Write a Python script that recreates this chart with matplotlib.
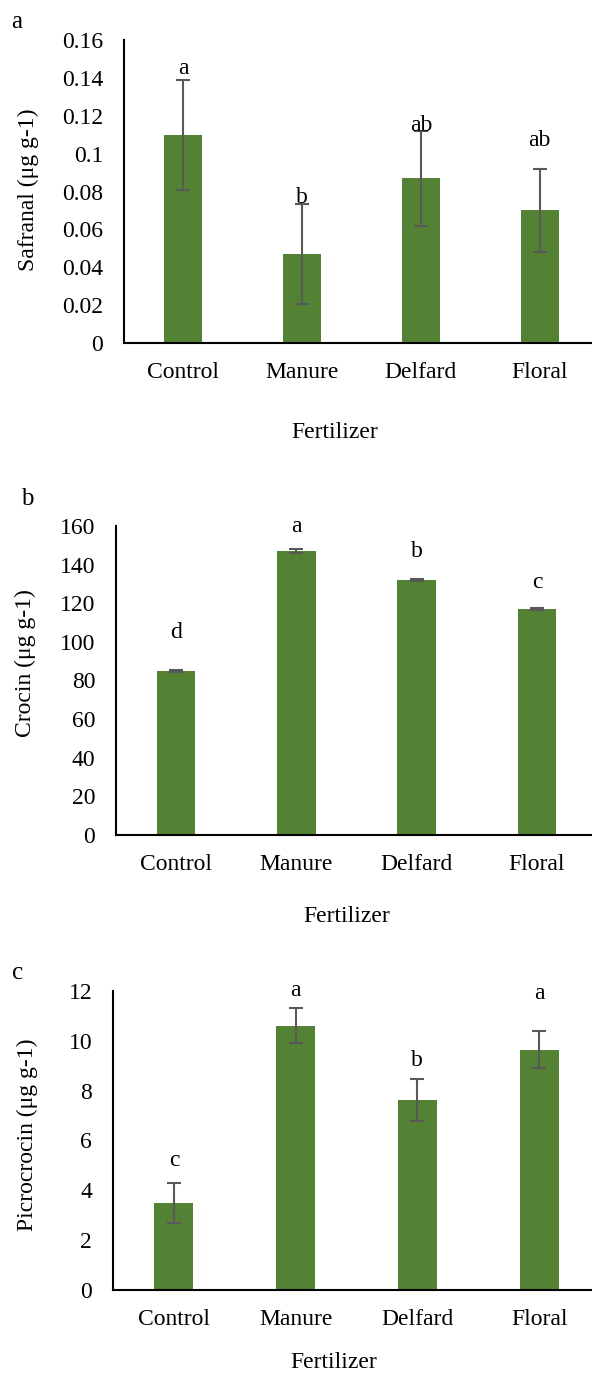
import matplotlib
matplotlib.use("Agg")
import matplotlib.pyplot as plt

plt.rcParams['font.family'] = ['Liberation Serif', 'DejaVu Serif']
plt.rcParams['font.size'] = 17

# Data
fertilizers = ["Control", "Manure", "Delfard", "Floral"]

safranal = [0.110, 0.047, 0.087, 0.070]
safranal_err = [0.029, 0.0265, 0.025, 0.0217]
safranal_letters = ["a", "b", "ab", "ab"]
safranal_letter_y = [0.145, 0.077, 0.115, 0.107]

crocin = [85, 147, 132, 117]
crocin_err = [0.6, 1.2, 0.6, 0.5]
crocin_letters = ["d", "a", "b", "c"]
crocin_letter_y = [105, 160, 147, 131]

picrocrocin = [3.5, 10.6, 7.63, 9.64]
picrocrocin_err = [0.8, 0.7, 0.83, 0.74]
picrocrocin_letters = ["c", "a", "b", "a"]
picrocrocin_letter_y = [5.2, 12.0, 9.2, 11.9]

W, H = 592, 1374
fig = plt.figure(figsize=(W / 100, H / 100), dpi=100)

bar_color = "#548235"
err_color = "#595959"


def px_axes(left, top, right, bottom):
    return fig.add_axes([left / W, 1 - bottom / H, (right - left) / W, (bottom - top) / H])


def panel(box, values, errs, letters, letter_y, ymax, ystep, ticklabels,
          ylabel, tag, tag_xy, ylabel_xy, xlabel_xy):
    ax = px_axes(*box)
    x = range(len(fertilizers))
    ax.bar(x, values, width=0.32, color=bar_color, zorder=2)
    ax.errorbar(x, values, yerr=errs, fmt="none", ecolor=err_color,
                elinewidth=1.5, capsize=5, capthick=1.5, zorder=3)
    for i, (lt, ly) in enumerate(zip(letters, letter_y)):
        ax.text(i, ly, lt, ha="center", va="center", zorder=4)
    ax.set_xlim(-0.5, len(fertilizers) - 0.5)
    ax.set_ylim(0, ymax)
    ticks = [ystep * k for k in range(len(ticklabels))]
    ax.set_yticks(ticks)
    ax.set_yticklabels(ticklabels)
    ax.set_xticks(list(x))
    ax.set_xticklabels(fertilizers)
    ax.tick_params(axis="y", length=0, pad=15)
    ax.tick_params(axis="x", length=0, pad=14)
    for s in ["top", "right"]:
        ax.spines[s].set_visible(False)
    for s in ["left", "bottom"]:
        ax.spines[s].set_linewidth(1.5)
        ax.spines[s].set_color("black")
    fig.text(tag_xy[0] / W, 1 - tag_xy[1] / H, tag, ha="center", va="center", fontsize=18)
    fig.text(ylabel_xy[0] / W, 1 - ylabel_xy[1] / H, ylabel, rotation=90,
             ha="center", va="center")
    fig.text(xlabel_xy[0] / W, 1 - xlabel_xy[1] / H, "Fertilizer",
             ha="center", va="center")
    return ax


panel((124, 40, 599, 343), safranal, safranal_err, safranal_letters, safranal_letter_y,
      0.16, 0.02, ["0", "0.02", "0.04", "0.06", "0.08", "0.1", "0.12", "0.14", "0.16"],
      "Safranal (μg g-1)", "a", (17, 22), (28, 190), (335, 433))

panel((116, 526, 597, 835), crocin, crocin_err, crocin_letters, crocin_letter_y,
      160, 20, ["0", "20", "40", "60", "80", "100", "120", "140", "160"],
      "Crocin (μg g-1)", "b", (27, 499), (25, 663), (347, 916))

panel((113, 991, 600, 1290), picrocrocin, picrocrocin_err, picrocrocin_letters,
      picrocrocin_letter_y, 12, 2, ["0", "2", "4", "6", "8", "10", "12"],
      "Picrocrocin (μg g-1)", "c", (18, 973), (27, 1135), (334, 1363))

fig.savefig("out.png", dpi=100, facecolor="white")
